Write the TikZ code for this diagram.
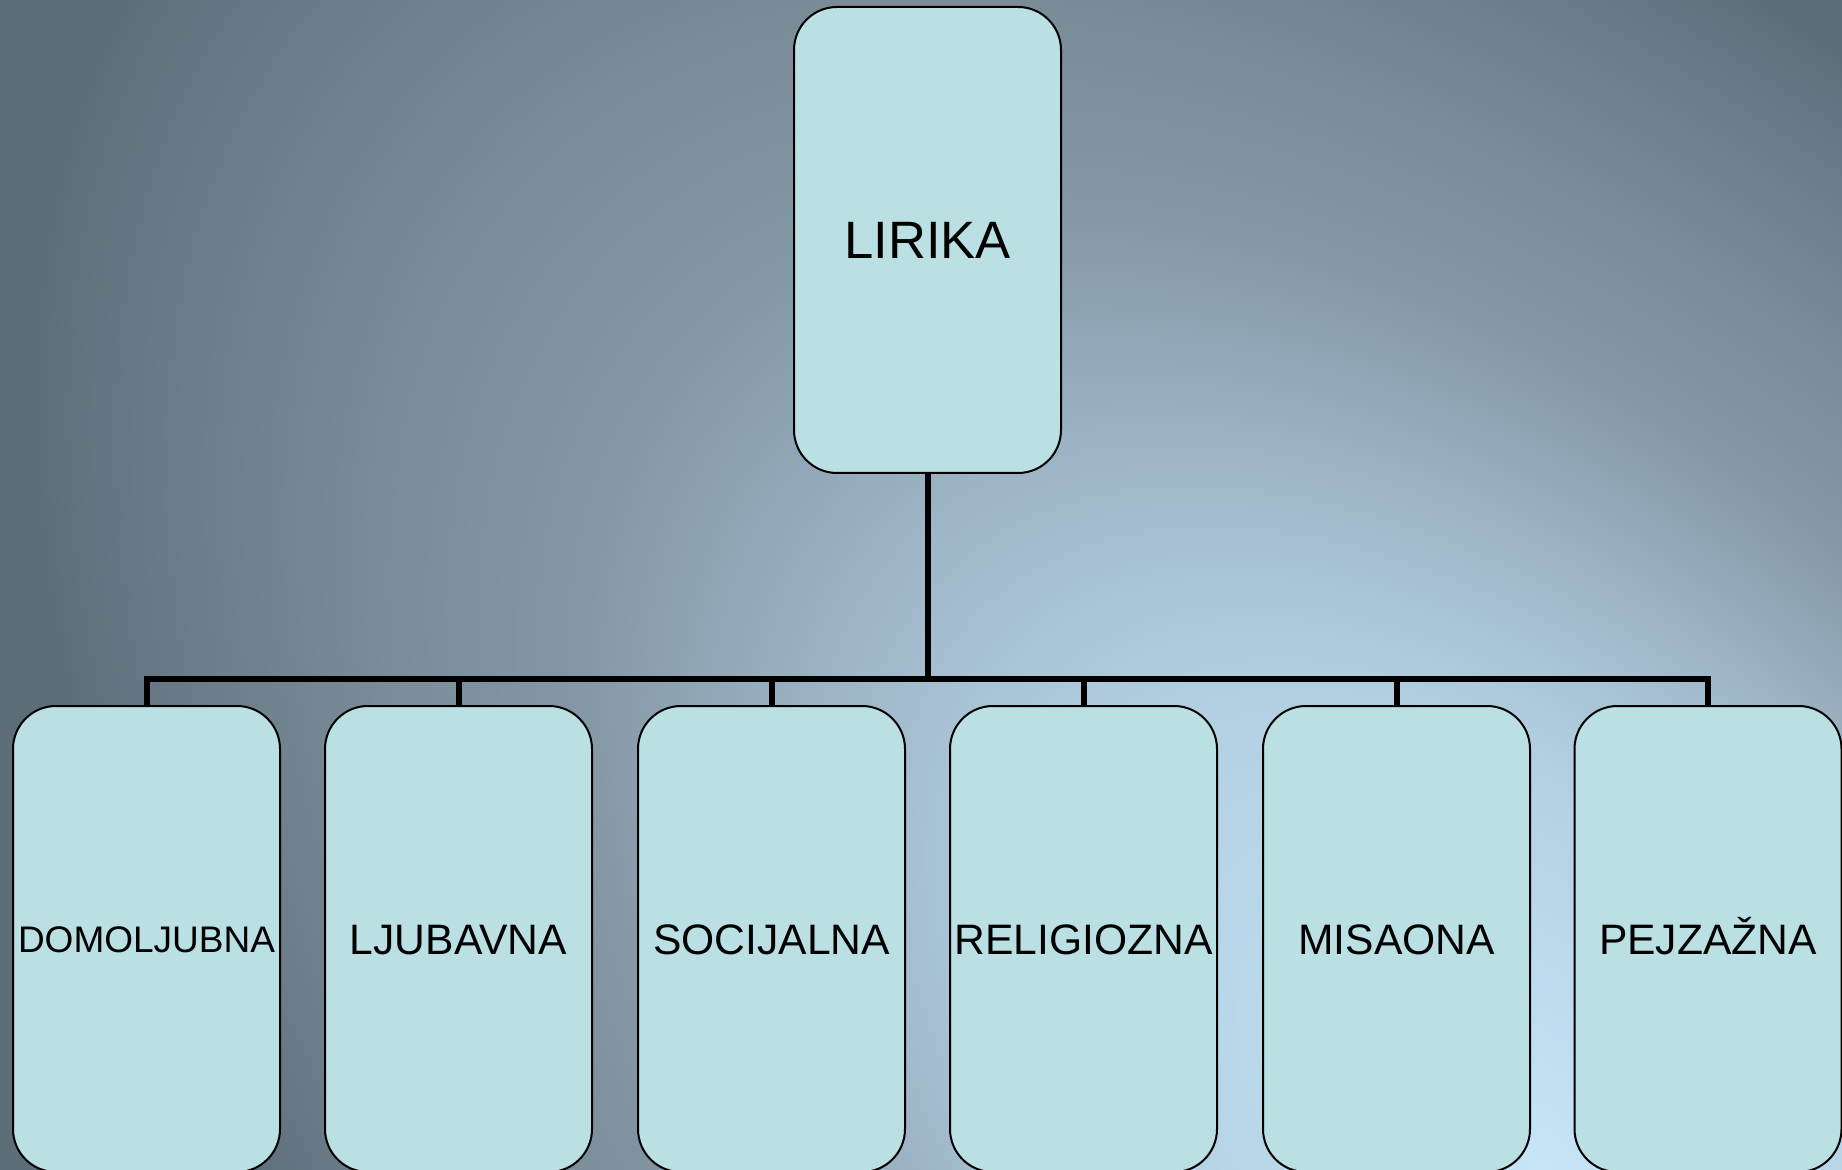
\documentclass[tikz,border=0pt]{standalone}
\usepackage{fontspec}
\setmainfont{Liberation Sans}
\definecolor{boxfill}{HTML}{BAE0E3}
\definecolor{bga}{HTML}{C6E5F7}
\definecolor{bgb}{HTML}{B4D1E4}
\definecolor{bgc}{HTML}{A9C3D6}
\definecolor{bgd}{HTML}{8497A5}
\definecolor{bge}{HTML}{7A8C98}
\definecolor{bgf}{HTML}{6A7B88}
\definecolor{bgg}{HTML}{5E6E79}
\pgfdeclareradialshading{bgshade}{\pgfpoint{0bp}{0bp}}{color(0bp)=(bga); color(7.5bp)=(bgb); color(10bp)=(bgc); color(16bp)=(bgd); color(19.25bp)=(bge); color(23bp)=(bgf); color(25bp)=(bgg); color(50bp)=(bgg)}
\begin{document}
\begin{tikzpicture}[x=0.5pt,y=-0.5pt,
  card/.style={draw=black, line width=1pt, fill=boxfill, rounded corners=21.5pt,
    minimum width=133.5pt, minimum height=233pt, inner sep=0pt, text=black},
  toplbl/.style={font=\fontsize{26.3}{30}\selectfont, text height=18.8pt, text depth=0pt},
  lbl/.style={font=\fontsize{21.3}{25}\selectfont, text height=15.25pt, text depth=0pt},
  tinylbl/.style={font=\fontsize{18.5}{22}\selectfont, text height=13.25pt, text depth=0pt},
  conn/.style={draw=black, line width=3pt}]
\useasboundingbox (0,0) rectangle (1842,1170);
\begin{scope}
  \clip (0,0) rectangle (1842,1170);
  \fill[bgg] (0,0) rectangle (1842,1170);
  \begin{scope}[transform canvas={shift={(1540,1170)},rotate=-45}]
    \shade[shading=bgshade] (-1850,-1050) rectangle (1850,1050);
  \end{scope}
\end{scope}

\node[card, toplbl] (top) at (927.5,240) {LIRIKA};
\node[card, tinylbl] (b1) at (146.5,939) {DOMOLJUBNA};
\node[card, lbl] (b2) at (458.5,939) {LJUBAVNA};
\node[card, lbl] (b3) at (771.5,939) {SOCIJALNA};
\node[card, lbl] (b4) at (1083.5,939) {RELIGIOZNA};
\node[card, lbl] (b5) at (1396.5,939) {MISAONA};
\node[card, lbl] (b6) at (1708,939) {PEJZAŽNA};

\coordinate (bus) at (927.5,679);
\draw[conn] (top.south) -- (bus);
\foreach \n in {b1,b2,b3,b4,b5,b6}
  \draw[conn] (bus) -| (\n.north);
\end{tikzpicture}
\end{document}
